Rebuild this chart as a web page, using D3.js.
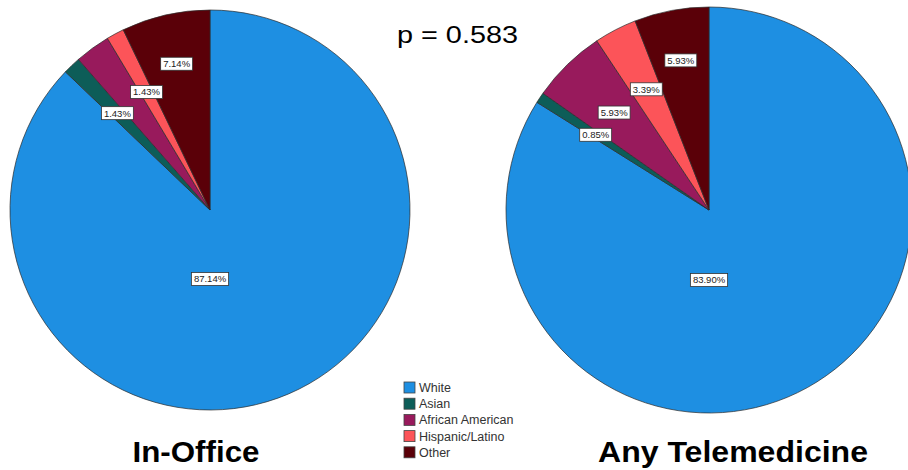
<!DOCTYPE html>
<html>
<head>
<meta charset="utf-8">
<script src="https://cdn.jsdelivr.net/npm/d3@7"></script>
<style>
  body { margin: 0; background: #fff; }
  svg { display: block; font-family: Arial, "Liberation Sans", sans-serif; }
</style>
</head>
<body>
<svg id="chart" width="908" height="470"></svg>
<script>
// Categories in the order SPSS draws them (clockwise from 12 o'clock)
const categories = ['White', 'Asian', 'African American', 'Hispanic/Latino', 'Other'];
const colors = ['#1e8fe2', '#0d5d58', '#981a5c', '#fc5459', '#5a0008'];

// Percentages per group
const inOfficeValues = [87.14, 1.43, 2.86, 1.43, 7.14];
const telemedValues = [83.90, 0.85, 5.93, 3.39, 5.93];

const groupTitles = ['In-Office', 'Any Telemedicine'];
const pValue = 'p = 0.583';

// labels that SPSS left out
const hiddenLabels = [['African American'], []];

const svg = d3.select('#chart');

// where the percent boxes sit, as a fraction of the radius
function labelRadius(cat) {
  if (cat === 'White') return 0.345;
  if (cat === 'Other') return 0.75;
  return 0.67;
}

const pies = [
  { cx: 210, cy: 210, r: 200, values: inOfficeValues, title: groupTitles[0], tx: 196, tw: 127 },
  { cx: 709, cy: 210, r: 203, values: telemedValues, title: groupTitles[1], tx: 733, tw: 270 }
];

const pieLayout = d3.pie().sort(null).value(d => d.value);

pies.forEach(function (p, i) {
  const data = categories.map((c, k) => ({ cat: c, value: p.values[k], color: colors[k] }));
  const arcs = pieLayout(data);
  const arc = d3.arc().innerRadius(0).outerRadius(p.r);

  const g = svg.append('g').attr('transform', `translate(${p.cx},${p.cy})`);

  // slices
  g.selectAll('path.slice')
    .data(arcs)
    .enter()
    .append('path')
    .classed('slice', true)
    .attr('d', arc)
    .attr('fill', d => d.data.color)
    .attr('stroke', '#2b2b2b')
    .attr('stroke-width', 0.7);

  // percent labels in white boxes
  const labels = g.selectAll('g.label')
    .data(arcs.filter(d => hiddenLabels[i].indexOf(d.data.cat) < 0))
    .enter()
    .append('g')
    .classed('label', true)
    .attr('transform', function (d) {
      let a = (d.startAngle + d.endAngle) / 2;
      if (d.data.cat === 'White') a = Math.PI;
      const rr = labelRadius(d.data.cat) * p.r;
      return `translate(${rr * Math.sin(a)},${-rr * Math.cos(a)})`;
    });

  const box = labels.append('rect')
    .attr('fill', '#fff')
    .attr('stroke', '#333')
    .attr('stroke-width', 0.8);

  labels.append('text')
    .attr('text-anchor', 'middle')
    .attr('dy', '0.36em')
    .style('font-size', '9.5px')
    .style('fill', '#222')
    .text(d => d.data.value.toFixed(2) + '%');

  // size each box to its text
  box.each(function () {
    const w = this.parentNode.querySelector('text').getComputedTextLength() + 5;
    d3.select(this)
      .attr('x', -w / 2)
      .attr('y', -6.5)
      .attr('width', w)
      .attr('height', 13);
  });

  // group title under the pie
  svg.append('text')
    .attr('x', p.tx)
    .attr('y', 462)
    .attr('text-anchor', 'middle')
    .attr('textLength', p.tw)
    .attr('lengthAdjust', 'spacingAndGlyphs')
    .style('font-size', '29px')
    .style('font-weight', 'bold')
    .style('fill', '#000')
    .text(p.title);
});

// p value
svg.append('text')
  .attr('x', 397)
  .attr('y', 43)
  .attr('textLength', 121)
  .attr('lengthAdjust', 'spacingAndGlyphs')
  .style('font-size', '23px')
  .style('fill', '#000')
  .text(pValue);

// legend
const legend = svg.append('g').attr('transform', 'translate(404,382)');
const rows = legend.selectAll('g.row')
  .data(categories)
  .enter()
  .append('g')
  .classed('row', true)
  .attr('transform', (d, k) => `translate(0,${k * 16.2})`);

rows.append('rect')
  .attr('width', 11)
  .attr('height', 11)
  .attr('fill', (d, k) => colors[k])
  .attr('stroke', '#444')
  .attr('stroke-width', 0.8);

rows.append('text')
  .attr('x', 15)
  .attr('y', 10)
  .style('font-size', '12.5px')
  .style('fill', '#333')
  .text(d => d);
</script>
</body>
</html>
